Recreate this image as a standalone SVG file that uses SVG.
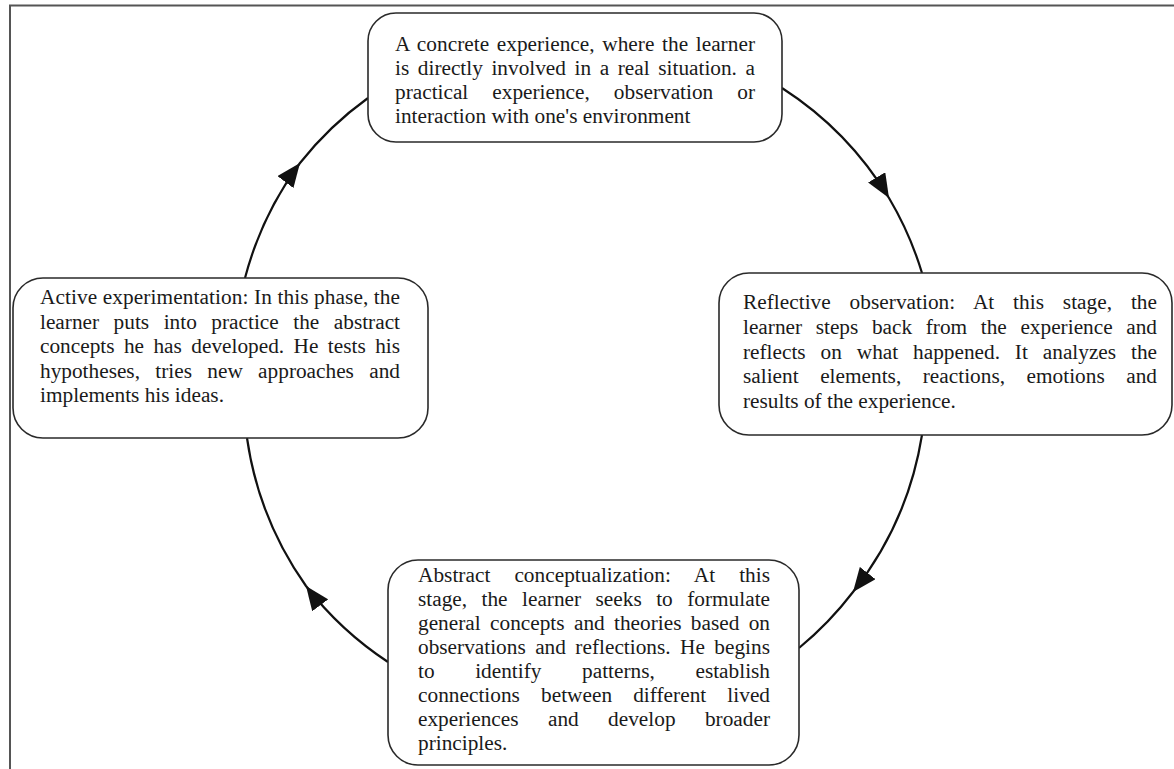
<svg xmlns="http://www.w3.org/2000/svg" width="1174" height="769" viewBox="0 0 1174 769">
  <defs>
    <style>
      .box { fill: #ffffff; stroke: #2a2a2a; stroke-width: 1.6; }
      .txt { font-family: "Liberation Serif", "Times New Roman", serif; font-size: 21.3px; fill: #1a1a1a; }
      .link { fill: none; stroke: #111111; stroke-width: 2.2; marker-mid: url(#head); }
      .frame { stroke: #555555; stroke-width: 2; fill: none; }
    </style>
    <marker id="head" viewBox="0 0 24 20" refX="24" refY="10" markerWidth="24" markerHeight="20" markerUnits="userSpaceOnUse" orient="auto">
      <path d="M0,0 L24,10 L0,20 Z" fill="#111111"/>
    </marker>
  </defs>

  <rect width="1174" height="769" fill="#ffffff"/>

  <!-- page frame -->
  <g id="frame">
    <line class="frame" x1="9" y1="5.5" x2="1174" y2="5.5"/>
    <line class="frame" x1="10" y1="5" x2="10" y2="769" stroke="#222222"/>
  </g>

  <!-- cycle connectors -->
  <g id="connectors">
    <path class="link" d="M782,88 A340,340 0 0 1 889,198 A340,340 0 0 1 922,273"/>
    <path class="link" d="M922,435 A340,340 0 0 1 853,592 A340,340 0 0 1 799,648"/>
    <path class="link" d="M388,662 A340,340 0 0 1 306,586 A340,340 0 0 1 247,438"/>
    <path class="link" d="M245,278 A340,340 0 0 1 300,163 A340,340 0 0 1 368,98"/>
  </g>

  <!-- concrete experience -->
  <g id="concrete-experience">
    <rect class="box" x="368" y="13" width="414" height="129" rx="28"/>
    <text class="txt">
      <tspan x="395" y="51" word-spacing="2.2" textLength="360">A concrete experience, where the learner</tspan>
      <tspan x="395" y="75" word-spacing="3.3" textLength="360">is directly involved in a real situation. a</tspan>
      <tspan x="395" y="99" word-spacing="18.7" textLength="360">practical experience, observation or</tspan>
      <tspan x="395" y="123">interaction with one's environment</tspan>
    </text>
  </g>

  <!-- reflective observation -->
  <g id="reflective-observation">
    <rect class="box" x="719" y="273" width="453" height="162" rx="30"/>
    <text class="txt">
      <tspan x="743" y="309" word-spacing="13.5" textLength="414">Reflective observation: At this stage, the</tspan>
      <tspan x="743" y="333.8" word-spacing="8.3" textLength="414">learner steps back from the experience and</tspan>
      <tspan x="743" y="358.6" word-spacing="9.6" textLength="414">reflects on what happened. It analyzes the</tspan>
      <tspan x="743" y="383.4" word-spacing="16.2" textLength="414">salient elements, reactions, emotions and</tspan>
      <tspan x="743" y="408.2">results of the experience.</tspan>
    </text>
  </g>

  <!-- abstract conceptualization -->
  <g id="abstract-conceptualization">
    <rect class="box" x="388" y="560" width="411" height="205" rx="30"/>
    <text class="txt">
      <tspan x="418" y="582" word-spacing="18.7" textLength="352">Abstract conceptualization: At this</tspan>
      <tspan x="418" y="606" word-spacing="9.1" textLength="352">stage, the learner seeks to formulate</tspan>
      <tspan x="418" y="630" word-spacing="4.0" textLength="352">general concepts and theories based on</tspan>
      <tspan x="418" y="654" word-spacing="4.1" textLength="352">observations and reflections. He begins</tspan>
      <tspan x="418" y="678" word-spacing="35.3" textLength="352">to identify patterns, establish</tspan>
      <tspan x="418" y="702" word-spacing="15.8" textLength="352">connections between different lived</tspan>
      <tspan x="418" y="726" word-spacing="24.1" textLength="352">experiences and develop broader</tspan>
      <tspan x="418" y="750">principles.</tspan>
    </text>
  </g>

  <!-- active experimentation -->
  <g id="active-experimentation">
    <rect class="box" x="13" y="278" width="415" height="160" rx="30"/>
    <text class="txt">
      <tspan x="40" y="304" textLength="360">Active experimentation: In this phase, the</tspan>
      <tspan x="40" y="328.5" word-spacing="9.2" textLength="360">learner puts into practice the abstract</tspan>
      <tspan x="40" y="353" word-spacing="4.1" textLength="360">concepts he has developed. He tests his</tspan>
      <tspan x="40" y="377.5" word-spacing="10" textLength="360">hypotheses, tries new approaches and</tspan>
      <tspan x="40" y="402">implements his ideas.</tspan>
    </text>
  </g>
</svg>
